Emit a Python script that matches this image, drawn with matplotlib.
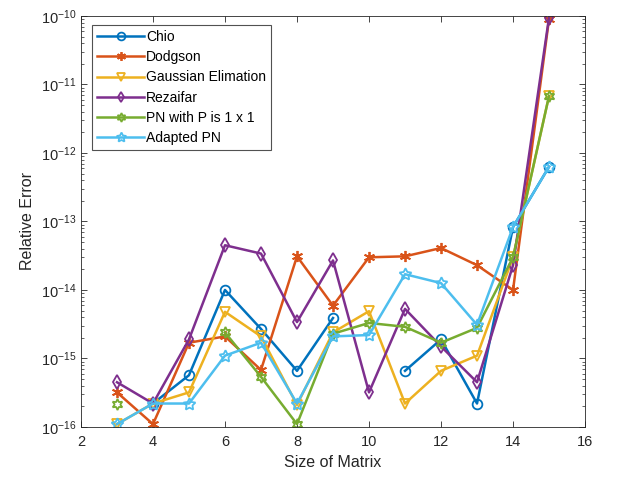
import numpy as np
import matplotlib
matplotlib.use("Agg")
import matplotlib.pyplot as plt
from matplotlib.ticker import LogLocator, NullFormatter, FixedLocator

plt.rcParams['font.family'] = ['Liberation Sans', 'DejaVu Sans']
plt.rcParams['mathtext.fontset'] = 'custom'
plt.rcParams['mathtext.rm'] = 'Liberation Sans'
plt.rcParams['mathtext.it'] = 'Liberation Sans'

nan = np.nan
sizes = [3, 4, 5, 6, 7, 8, 9, 10, 11, 12, 13, 14, 15]
chio = [nan, 2.2e-16, 5.7e-16, 1.0e-14, 2.7e-15, 6.6e-16, 3.9e-15, nan, 6.6e-16, 1.9e-15, 2.2e-16, 8.3e-14, 6.3e-13]
dodgson = [3.2e-16, 1.1e-16, 1.7e-15, 2.1e-15, 6.8e-16, 3.1e-14, 5.9e-15, 3.0e-14, 3.1e-14, 4.1e-14, 2.3e-14, 1.0e-14, 9.0e-11]
gaussian = [1.1e-16, 2.2e-16, 3.2e-16, 4.8e-15, 2.1e-15, 2.1e-16, 2.4e-15, 4.9e-15, 2.2e-16, 6.6e-16, 1.1e-15, 3.0e-14, 6.8e-12]
rezaifar = [4.5e-16, 2.2e-16, 1.9e-15, 4.5e-14, 3.4e-14, 3.4e-15, 2.7e-14, 3.2e-16, 5.3e-15, 1.5e-15, 4.5e-16, 2.3e-14, 9.5e-11]
pn = [2.2e-16, nan, nan, 2.4e-15, 5.4e-16, 1.1e-16, 2.3e-15, 3.3e-15, 2.9e-15, 1.7e-15, 2.8e-15, 3.0e-14, 6.8e-12]
adapted = [1.1e-16, 2.2e-16, 2.2e-16, 1.1e-15, 1.7e-15, 2.2e-16, 2.1e-15, 2.2e-15, 1.7e-14, 1.26e-14, 3.1e-15, 8.3e-14, 6.3e-13]

labels = ['Chio', 'Dodgson', 'Gaussian Elimation', 'Rezaifar', 'PN with P is 1 x 1', 'Adapted PN']
series = [chio, dodgson, gaussian, rezaifar, pn, adapted]
colors = ['#0072BD', '#D95319', '#EDB120', '#7E2F8E', '#77AC30', '#4DBEEE']
markers = ['o', (6, 2, 0), 'v', 'd', (6, 1, 0), (5, 1, 0)]
msizes = [7, 8, 7, 7, 8, 9]

fig = plt.figure(figsize=(6.2, 4.79), dpi=100)
ax = fig.add_axes([0.1306, 0.1086, 0.813, 0.858])

for lab, ys, c, m, ms in zip(labels, series, colors, markers, msizes):
    ax.plot(sizes, ys, color=c, marker=m, markersize=ms, markerfacecolor='none',
            markeredgecolor=c, markeredgewidth=1.3, linewidth=1.8, label=lab)

ax.set_yscale('log')
ax.set_xlim(2, 16)
ax.set_ylim(1e-16, 1e-10)
ax.xaxis.set_major_locator(FixedLocator([2, 4, 6, 8, 10, 12, 14, 16]))
ax.yaxis.set_major_locator(LogLocator(base=10, numticks=10))
ax.yaxis.set_minor_locator(LogLocator(base=10, subs=np.arange(2, 10), numticks=20))
ax.yaxis.set_minor_formatter(NullFormatter())

gray = '#262626'
for s in ax.spines.values():
    s.set_color(gray)
    s.set_linewidth(0.6)
ax.tick_params(which='both', direction='in', top=True, right=True, colors=gray,
               labelsize=10.5, labelcolor=gray)
ax.tick_params(which='major', length=4, width=0.6)
ax.tick_params(which='minor', length=2, width=0.5)
ax.tick_params(axis='x', pad=6)

ax.set_xlabel('Size of Matrix', fontsize=11.5, color=gray)
ax.set_ylabel('Relative Error', fontsize=11.5, color=gray)

leg = ax.legend(loc='upper left', bbox_to_anchor=(0.022, 0.978), borderaxespad=0,
                fontsize=10, frameon=True, fancybox=False, edgecolor=gray,
                handlelength=3.4, handletextpad=0.15, labelspacing=0.45,
                borderpad=0.35, markerscale=0.8)
leg.get_frame().set_linewidth(0.8)

fig.savefig('out.png', dpi=100)
